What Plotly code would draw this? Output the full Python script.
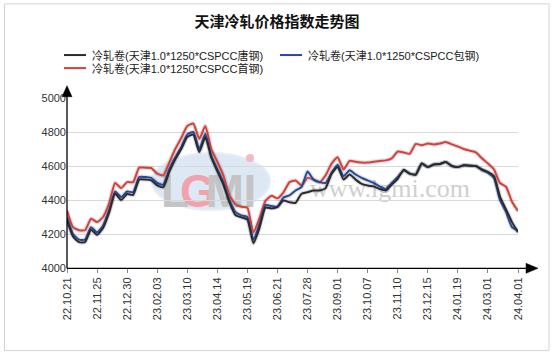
import plotly.graph_objects as go

tick_labels = ["22.10.21", "22.11.25", "22.12.30", "23.02.03", "23.03.10", "23.04.14",
               "23.05.19", "23.06.21", "23.07.28", "23.09.01", "23.10.07", "23.11.10",
               "23.12.15", "24.01.19", "24.03.01", "24.04.01"]

tangsteel = [4280, 4185, 4152, 4152, 4225, 4195, 4235, 4325, 4437, 4400,
             4435, 4430, 4520, 4520, 4515, 4486, 4475, 4565, 4640, 4700,
             4770, 4785, 4682, 4770, 4650, 4570, 4490, 4388, 4312, 4298,
             4285, 4145, 4235, 4355, 4350, 4360, 4397, 4387, 4383, 4437,
             4446, 4456, 4456, 4470, 4555, 4594, 4520, 4550, 4520, 4495,
             4485, 4480, 4465, 4456, 4490, 4525, 4578, 4555, 4550, 4615,
             4594, 4608, 4612, 4623, 4600, 4594, 4604, 4602, 4600, 4580,
             4565, 4540, 4420, 4345, 4270, 4210]

baosteel = [4299, 4200, 4167, 4167, 4240, 4210, 4250, 4340, 4450, 4417,
            4450, 4446, 4535, 4535, 4530, 4500, 4490, 4580, 4650, 4712,
            4786, 4800, 4700, 4790, 4660, 4580, 4505, 4400, 4330, 4310,
            4300, 4167, 4258, 4370, 4365, 4360, 4415, 4427, 4456, 4476,
            4568, 4520, 4505, 4500, 4560, 4608, 4540, 4575, 4550, 4530,
            4515, 4500, 4480, 4465, 4500, 4535, 4574, 4555, 4550, 4615,
            4594, 4610, 4612, 4623, 4600, 4594, 4604, 4602, 4600, 4575,
            4560, 4530, 4400, 4330, 4240, 4220]

shougang = [4338, 4240, 4222, 4222, 4290, 4270, 4300, 4380, 4500, 4470,
            4505, 4505, 4590, 4590, 4588, 4555, 4545, 4620, 4700, 4765,
            4835, 4850, 4760, 4835, 4700, 4625, 4545, 4430, 4375, 4360,
            4355, 4210, 4292, 4395, 4425, 4410, 4445, 4505, 4515, 4486,
            4530, 4520, 4505, 4545, 4614, 4652, 4580, 4630, 4625, 4620,
            4620, 4625, 4630, 4633, 4645, 4685, 4680, 4672, 4730, 4722,
            4732, 4727, 4732, 4741, 4727, 4715, 4700, 4690, 4680, 4645,
            4615, 4580, 4500, 4478, 4390, 4335]

names = ["冷轧卷(天津1.0*1250*CSPCC唐钢)", "冷轧卷(天津1.0*1250*CSPCC包钢)",
         "冷轧卷(天津1.0*1250*CSPCC首钢)"]
colors = ["#2b2b2b", "#2548a0", "#d83f3a"]

idx = list(range(len(tangsteel)))
tickvals = idx[::5]

W, H = 554, 356
L, R, T, B = 67, 518, 98.3, 267.7
def px(x):
    return (x - L) / (R - L)
def py(y):
    return (B - y) / (B - T)

fig = go.Figure()
for ser in (shougang, baosteel, tangsteel):
    fig.add_trace(go.Scatter(x=idx, y=ser, mode="lines", showlegend=False, hoverinfo="skip",
                             line=dict(color="rgba(0,0,0,0.12)", width=4.5, shape="spline", smoothing=0.5)))
for ser, nm, col in ((shougang, names[2], colors[2]), (baosteel, names[1], colors[1]),
                     (tangsteel, names[0], colors[0])):
    fig.add_trace(go.Scatter(x=idx, y=ser, mode="lines", name=nm, showlegend=False,
                             line=dict(color=col, width=2, shape="spline", smoothing=0.5)))

shapes = [
    dict(type="rect", xref="paper", yref="paper", x0=px(4.5), x1=px(549), y0=py(350), y1=py(4.5),
         line=dict(color="#d4d4d4", width=1), fillcolor="rgba(0,0,0,0)", layer="below"),
    dict(type="circle", xref="paper", yref="paper", x0=px(152), x1=px(270), y0=py(210), y1=py(153),
         line=dict(color="#e6eef8", width=2), fillcolor="#dde8f4", layer="below"),
    dict(type="circle", xref="paper", yref="paper", x0=px(246), x1=px(254), y0=py(162), y1=py(154),
         line=dict(width=0), fillcolor="#f4b8c0", layer="below"),
]
letters = [("L", 175, "#c4c4c4"), ("G", 198, "#f0a3ab"), ("M", 225, "#c4c4c4"), ("I", 250, "#c4c4c4")]
for ch, cx, col in letters:
    shapes.append(dict(type="rect", xref="paper", yref="paper", x0=px(cx - 14), x1=px(cx + 14),
                       y0=py(207), y1=py(167), line=dict(width=0), fillcolor="rgba(0,0,0,0)", layer="below",
                       label=dict(text=ch, textposition="middle center",
                                  font=dict(family="Liberation Sans Narrow, Liberation Sans", size=46,
                                            color=col, weight="bold"))))
shapes.append(dict(type="rect", xref="paper", yref="paper", x0=px(300), x1=px(480),
                   y0=py(201), y1=py(169), line=dict(width=0), fillcolor="rgba(0,0,0,0)", layer="below",
                   label=dict(text="www.lgmi.com", textposition="middle center",
                              font=dict(family="Liberation Serif", size=26, color="#cfcfcf"))))

# axis lines with arrowheads (pixel positions converted to paper)
shapes += [
    dict(type="line", xref="paper", yref="paper", x0=px(67), x1=px(67), y0=py(268), y1=py(95),
         line=dict(color="#000", width=1.3)),
    dict(type="path", xref="paper", yref="paper",
         path=f"M {px(67)} {py(86)} L {px(62)} {py(97)} L {px(72)} {py(97)} Z",
         fillcolor="#000", line=dict(color="#000", width=0.5)),
    dict(type="line", xref="paper", yref="paper", x0=px(67), x1=px(527), y0=py(268), y1=py(268),
         line=dict(color="#000", width=1.3)),
    dict(type="path", xref="paper", yref="paper",
         path=f"M {px(538)} {py(268)} L {px(526)} {py(263)} L {px(526)} {py(273)} Z",
         fillcolor="#000", line=dict(color="#000", width=0.5)),
]

# manual legend
leg_pos = [(64, 55.5), (280, 55.5), (64, 68.5)]
annotations = []
for (lx, ly), nm, col in zip(leg_pos, names, colors):
    shapes.append(dict(type="line", xref="paper", yref="paper", x0=px(lx), x1=px(lx + 22),
                       y0=py(ly), y1=py(ly), line=dict(color=col, width=2)))
    annotations.append(dict(x=px(lx + 26), y=py(ly), xref="paper", yref="paper", text=nm,
                            showarrow=False, xanchor="left", yanchor="middle",
                            font=dict(family="Liberation Sans, Noto Sans CJK SC", size=11, color="#222")))

fig.update_layout(
    width=W, height=H,
    margin=dict(l=L, r=W - R, t=T, b=H - B, autoexpand=False),
    paper_bgcolor="white", plot_bgcolor="white",
    title=dict(text="<b>天津冷轧价格指数走势图</b>", x=0.5, xanchor="center", y=1 - 22 / H, yanchor="middle",
               font=dict(family="Noto Sans CJK SC", size=15, color="#111")),
    xaxis=dict(range=[0, 75], tickmode="array", tickvals=tickvals, ticktext=tick_labels,
               tickangle=-90, ticks="outside", ticklen=4, tickcolor="#888",
               showgrid=False, zeroline=False, showline=False, automargin=False,
               tickfont=dict(family="Liberation Sans", size=11, color="#333")),
    yaxis=dict(range=[4000, 5000], dtick=200, showgrid=True, gridcolor="#d9d9d9", gridwidth=1,
               zeroline=False, showline=False, ticks="", ticklen=0, automargin=False,
               tickfont=dict(family="Liberation Sans", size=11, color="#333")),
    shapes=shapes, annotations=annotations, showlegend=False,
)
fig.write_html("out.html", config={"displayModeBar": False},
               post_script="document.body.style.margin='0';document.body.style.overflow='hidden';")
